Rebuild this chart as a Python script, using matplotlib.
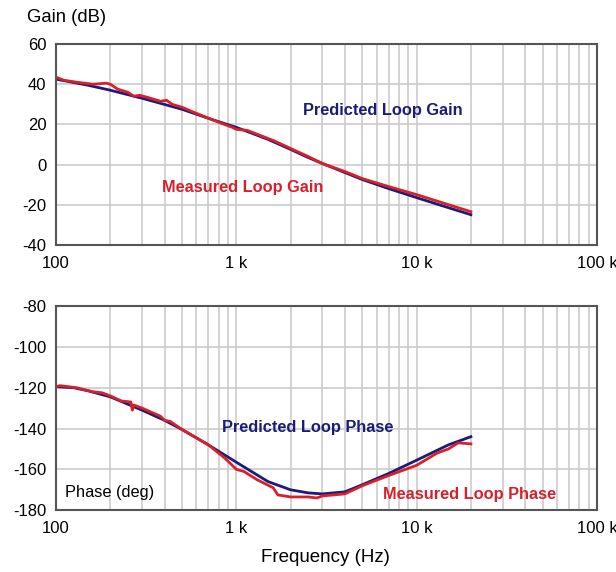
import numpy as np
import matplotlib.pyplot as plt
from matplotlib.ticker import FixedLocator, NullFormatter

plt.rcParams['font.family'] = ['Liberation Sans', 'DejaVu Sans']
plt.rcParams['axes.unicode_minus'] = False

# Gain data (Hz, dB)
pred_gain_f = [100, 150, 200, 300, 500, 700, 1000, 1500, 2000, 2500, 3000,
               4000, 5000, 7000, 10000, 15000, 20000]
pred_gain = [42.5, 39.5, 37, 33, 27.5, 23, 18.5, 12.5, 7.5, 3.5, 0.5,
             -4, -7.5, -12, -16.5, -21.5, -25]

meas_gain_f = [100, 110, 130, 160, 190, 200, 220, 250, 270, 290, 320, 380,
               410, 440, 500, 600, 800, 950, 1000, 1150, 1400, 1600, 2000,
               2500, 3000, 4000, 5000, 7000, 10000, 15000, 20000]
meas_gain = [43.5, 42, 41, 40, 40.5, 40, 37.5, 36, 34, 34.5, 33.5, 31.5,
             32, 30, 28.5, 25.5, 21, 18.5, 17.5, 17, 14, 12, 8,
             4, 0.5, -3.5, -7, -11, -15, -20, -23.5]

# Phase data (Hz, deg)
pred_phase_f = [100, 125, 150, 200, 300, 400, 500, 700, 1000, 1500, 2000,
                2500, 3000, 4000, 5000, 7000, 10000, 15000, 20000]
pred_phase = [-119.5, -120, -121.5, -124.5, -131, -136, -140.5, -148, -156.5,
              -166, -170, -171.5, -172, -171, -167.5, -162, -155.5, -148, -144]

meas_phase_f = [100, 105, 130, 160, 180, 200, 230, 260, 265, 270, 300, 380,
                400, 430, 500, 700, 850, 900, 1000, 1100, 1300, 1600, 1700,
                2000, 2500, 2800, 3000, 4000, 5000, 7000, 10000, 13000, 15000,
                17000, 20000]
meas_phase = [-119.5, -119, -120, -122, -122.5, -124, -126.5, -127, -131,
              -128.5, -130, -134, -136, -136.5, -140.5, -148, -154, -156,
              -160, -161, -165, -169, -172.5, -173.5, -173.5, -174, -173,
              -172, -168, -163, -158, -152, -150, -147, -147.5]

x_ticks = [100, 1000, 10000, 100000]
x_labels = ['100', '1 k', '10 k', '100 k']

BLUE = '#1c1c78'
RED = '#d8202c'

fig = plt.figure(figsize=(6.16, 5.72), dpi=100)
ax1 = fig.add_axes([0.091, 0.572, 0.878, 0.351])
ax2 = fig.add_axes([0.091, 0.108, 0.878, 0.357])


def style_axes(ax, yticks):
    ax.set_xscale('log')
    ax.set_xlim(100, 100000)
    ax.set_ylim(yticks[0], yticks[-1])
    ax.set_yticks(yticks)
    ax.xaxis.set_major_locator(FixedLocator(x_ticks))
    ax.set_xticklabels(x_labels)
    minors = [m * d for d in [100, 1000, 10000] for m in range(2, 10)]
    ax.xaxis.set_minor_locator(FixedLocator(minors))
    ax.xaxis.set_minor_formatter(NullFormatter())
    ax.grid(True, which='both', axis='x', color='#cccccc', lw=1.2)
    ax.grid(True, which='major', axis='y', color='#cccccc', lw=1.2)
    ax.set_axisbelow(True)
    ax.tick_params(which='both', length=0, labelsize=12, pad=8)
    ax.tick_params(axis='y', pad=7)
    for s in ax.spines.values():
        s.set_color('#555555')
        s.set_linewidth(1.5)


style_axes(ax1, [-40, -20, 0, 20, 40, 60])
style_axes(ax2, [-180, -160, -140, -120, -100, -80])

ax1.plot(pred_gain_f, pred_gain, color=BLUE, lw=2)
ax1.plot(meas_gain_f, meas_gain, color=RED, lw=2)
ax2.plot(pred_phase_f, pred_phase, color=BLUE, lw=2)
ax2.plot(meas_phase_f, meas_phase, color=RED, lw=2)

ax1.text(2330, 26.7, 'Predicted Loop Gain', color=BLUE, fontsize=11.8,
         fontweight='bold', va='center')
ax1.text(388, -11.6, 'Measured Loop Gain', color=RED, fontsize=11.8,
         fontweight='bold', va='center')
ax2.text(836, -139.3, 'Predicted Loop Phase', color=BLUE, fontsize=11.8,
         fontweight='bold', va='center')
ax2.text(6500, -172.2, 'Measured Loop Phase', color=RED, fontsize=11.8,
         fontweight='bold', va='center')
ax2.text(112, -171.2, 'Phase (deg)', color='black', fontsize=11.8,
         va='center')

fig.text(27 / 616, 1 - 18 / 572, 'Gain (dB)', fontsize=13.3, va='center')
fig.text(325 / 616, 1 - 558 / 572, 'Frequency (Hz)', fontsize=13.5,
         ha='center', va='center')

fig.savefig('out.png', dpi=100)
